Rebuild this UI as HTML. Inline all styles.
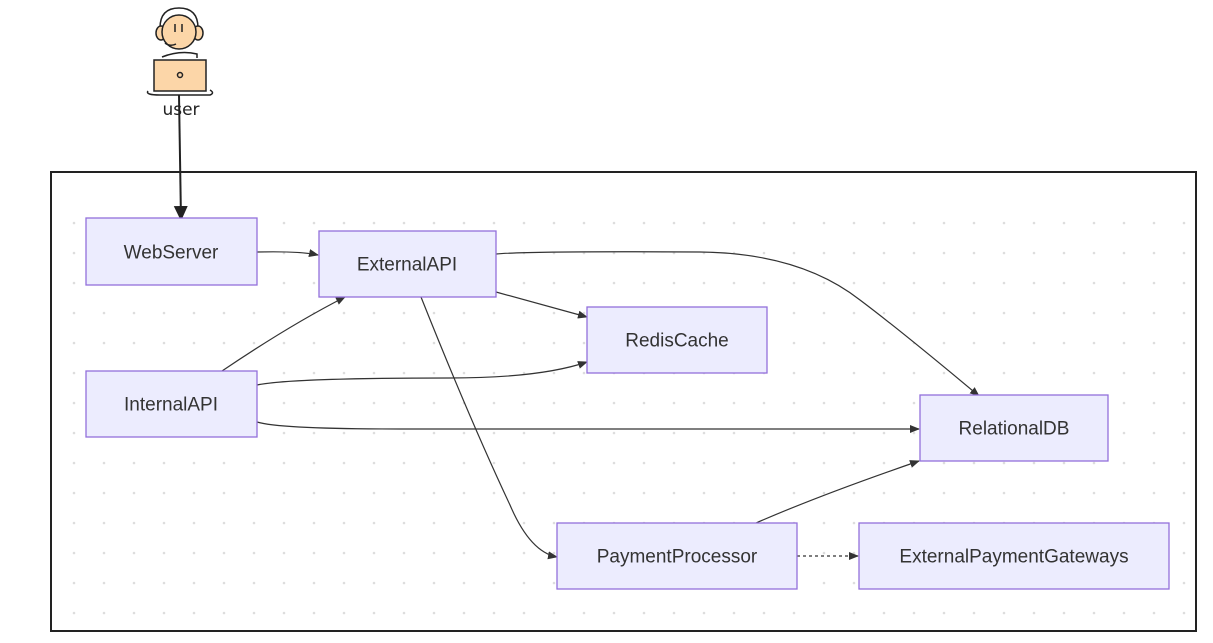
<!DOCTYPE html>
<html><head><meta charset="utf-8"><style>
html,body{margin:0;padding:0;background:#fff;}
svg{display:block;font-family:"Liberation Sans",Arial,sans-serif;}
</style></head><body>
<svg width="1213" height="643" viewBox="0 0 1213 643" xmlns="http://www.w3.org/2000/svg">
<defs>
<pattern id="dots" x="59" y="208" width="30" height="30" patternUnits="userSpaceOnUse">
<circle cx="15" cy="15" r="1.3" fill="#ddd"/>
</pattern>
<marker id="ah" markerWidth="10" markerHeight="10" refX="9" refY="5" orient="auto" markerUnits="userSpaceOnUse">
<path d="M0,1 L10,5 L0,9 z" fill="#333"/>
</marker>
<marker id="ahb" markerWidth="16" markerHeight="16" refX="14" refY="8" orient="auto" markerUnits="userSpaceOnUse">
<path d="M0,1 L15,8 L0,15 z" fill="#222"/>
</marker>
</defs>
<rect x="51" y="172" width="1145" height="459" fill="#fff" stroke="#222" stroke-width="2"/>
<rect x="60" y="208" width="1130" height="415" fill="url(#dots)"/>

<g stroke="#222" stroke-width="1.5" fill="none">
<path d="M160,28 Q160,8 179,8 Q198,8 198,28"/>
<ellipse cx="161" cy="33" rx="5" ry="7" fill="#fcd6a8"/>
<ellipse cx="198" cy="33" rx="5" ry="7" fill="#fcd6a8"/>
<circle cx="179" cy="32" r="17" fill="#fcd6a8"/>
<line x1="175" y1="24" x2="175" y2="32"/><line x1="182" y1="24" x2="182" y2="32"/>
<path d="M165,43 Q170,47 176,44"/>
<path d="M162,57 Q180,50 197,54 L197,58"/>
<rect x="154" y="60" width="52" height="31" fill="#fcd6a8"/>
<circle cx="180" cy="75" r="2.5"/>
<path d="M148,91 Q145,95 160,95 L210,95 Q215,93 210,90"/>
</g>
<text x="181" y="115" font-size="17" text-anchor="middle" fill="#222" font-family="'Comic Sans MS','DejaVu Sans',sans-serif">user</text>
<line x1="179" y1="95" x2="181" y2="220" stroke="#222" stroke-width="2" marker-end="url(#ahb)"/>

<g stroke="#333" stroke-width="1.2" fill="none" marker-end="url(#ah)">
<path d="M257,252 Q300,251 318,255"/>
<path d="M222,371 Q290,325 345,297"/>
<path d="M496,292 L587,317"/>
<path d="M496,254 Q530,251 700,252 Q800,253 860,300 Q900,330 979,396"/>
<path d="M257,385 Q290,378 450,378 Q540,378 587,362"/>
<path d="M257,422 Q280,429 400,429 L919,429"/>
<path d="M421,297 Q470,420 510,505 Q530,552 557,557"/>
<path d="M756,523 Q820,495 919,461"/>
<path d="M797,556 L858,556" stroke-dasharray="3,3"/>
</g>

<g fill="#ececfe" stroke="#9370db" stroke-width="1.3">
<rect x="86" y="218" width="171" height="67"/>
<rect x="319" y="231" width="177" height="66"/>
<rect x="587" y="307" width="180" height="66"/>
<rect x="86" y="371" width="171" height="66"/>
<rect x="920" y="395" width="188" height="66"/>
<rect x="557" y="523" width="240" height="66"/>
<rect x="859" y="523" width="310" height="66"/>
</g>
<g font-size="19" fill="#333" text-anchor="middle" dominant-baseline="central">
<text x="171" y="253">WebServer</text>
<text x="407" y="265">ExternalAPI</text>
<text x="677" y="341">RedisCache</text>
<text x="171" y="405">InternalAPI</text>
<text x="1014" y="429">RelationalDB</text>
<text x="677" y="557">PaymentProcessor</text>
<text x="1014" y="557">ExternalPaymentGateways</text>
</g>
</svg>
</body></html>
